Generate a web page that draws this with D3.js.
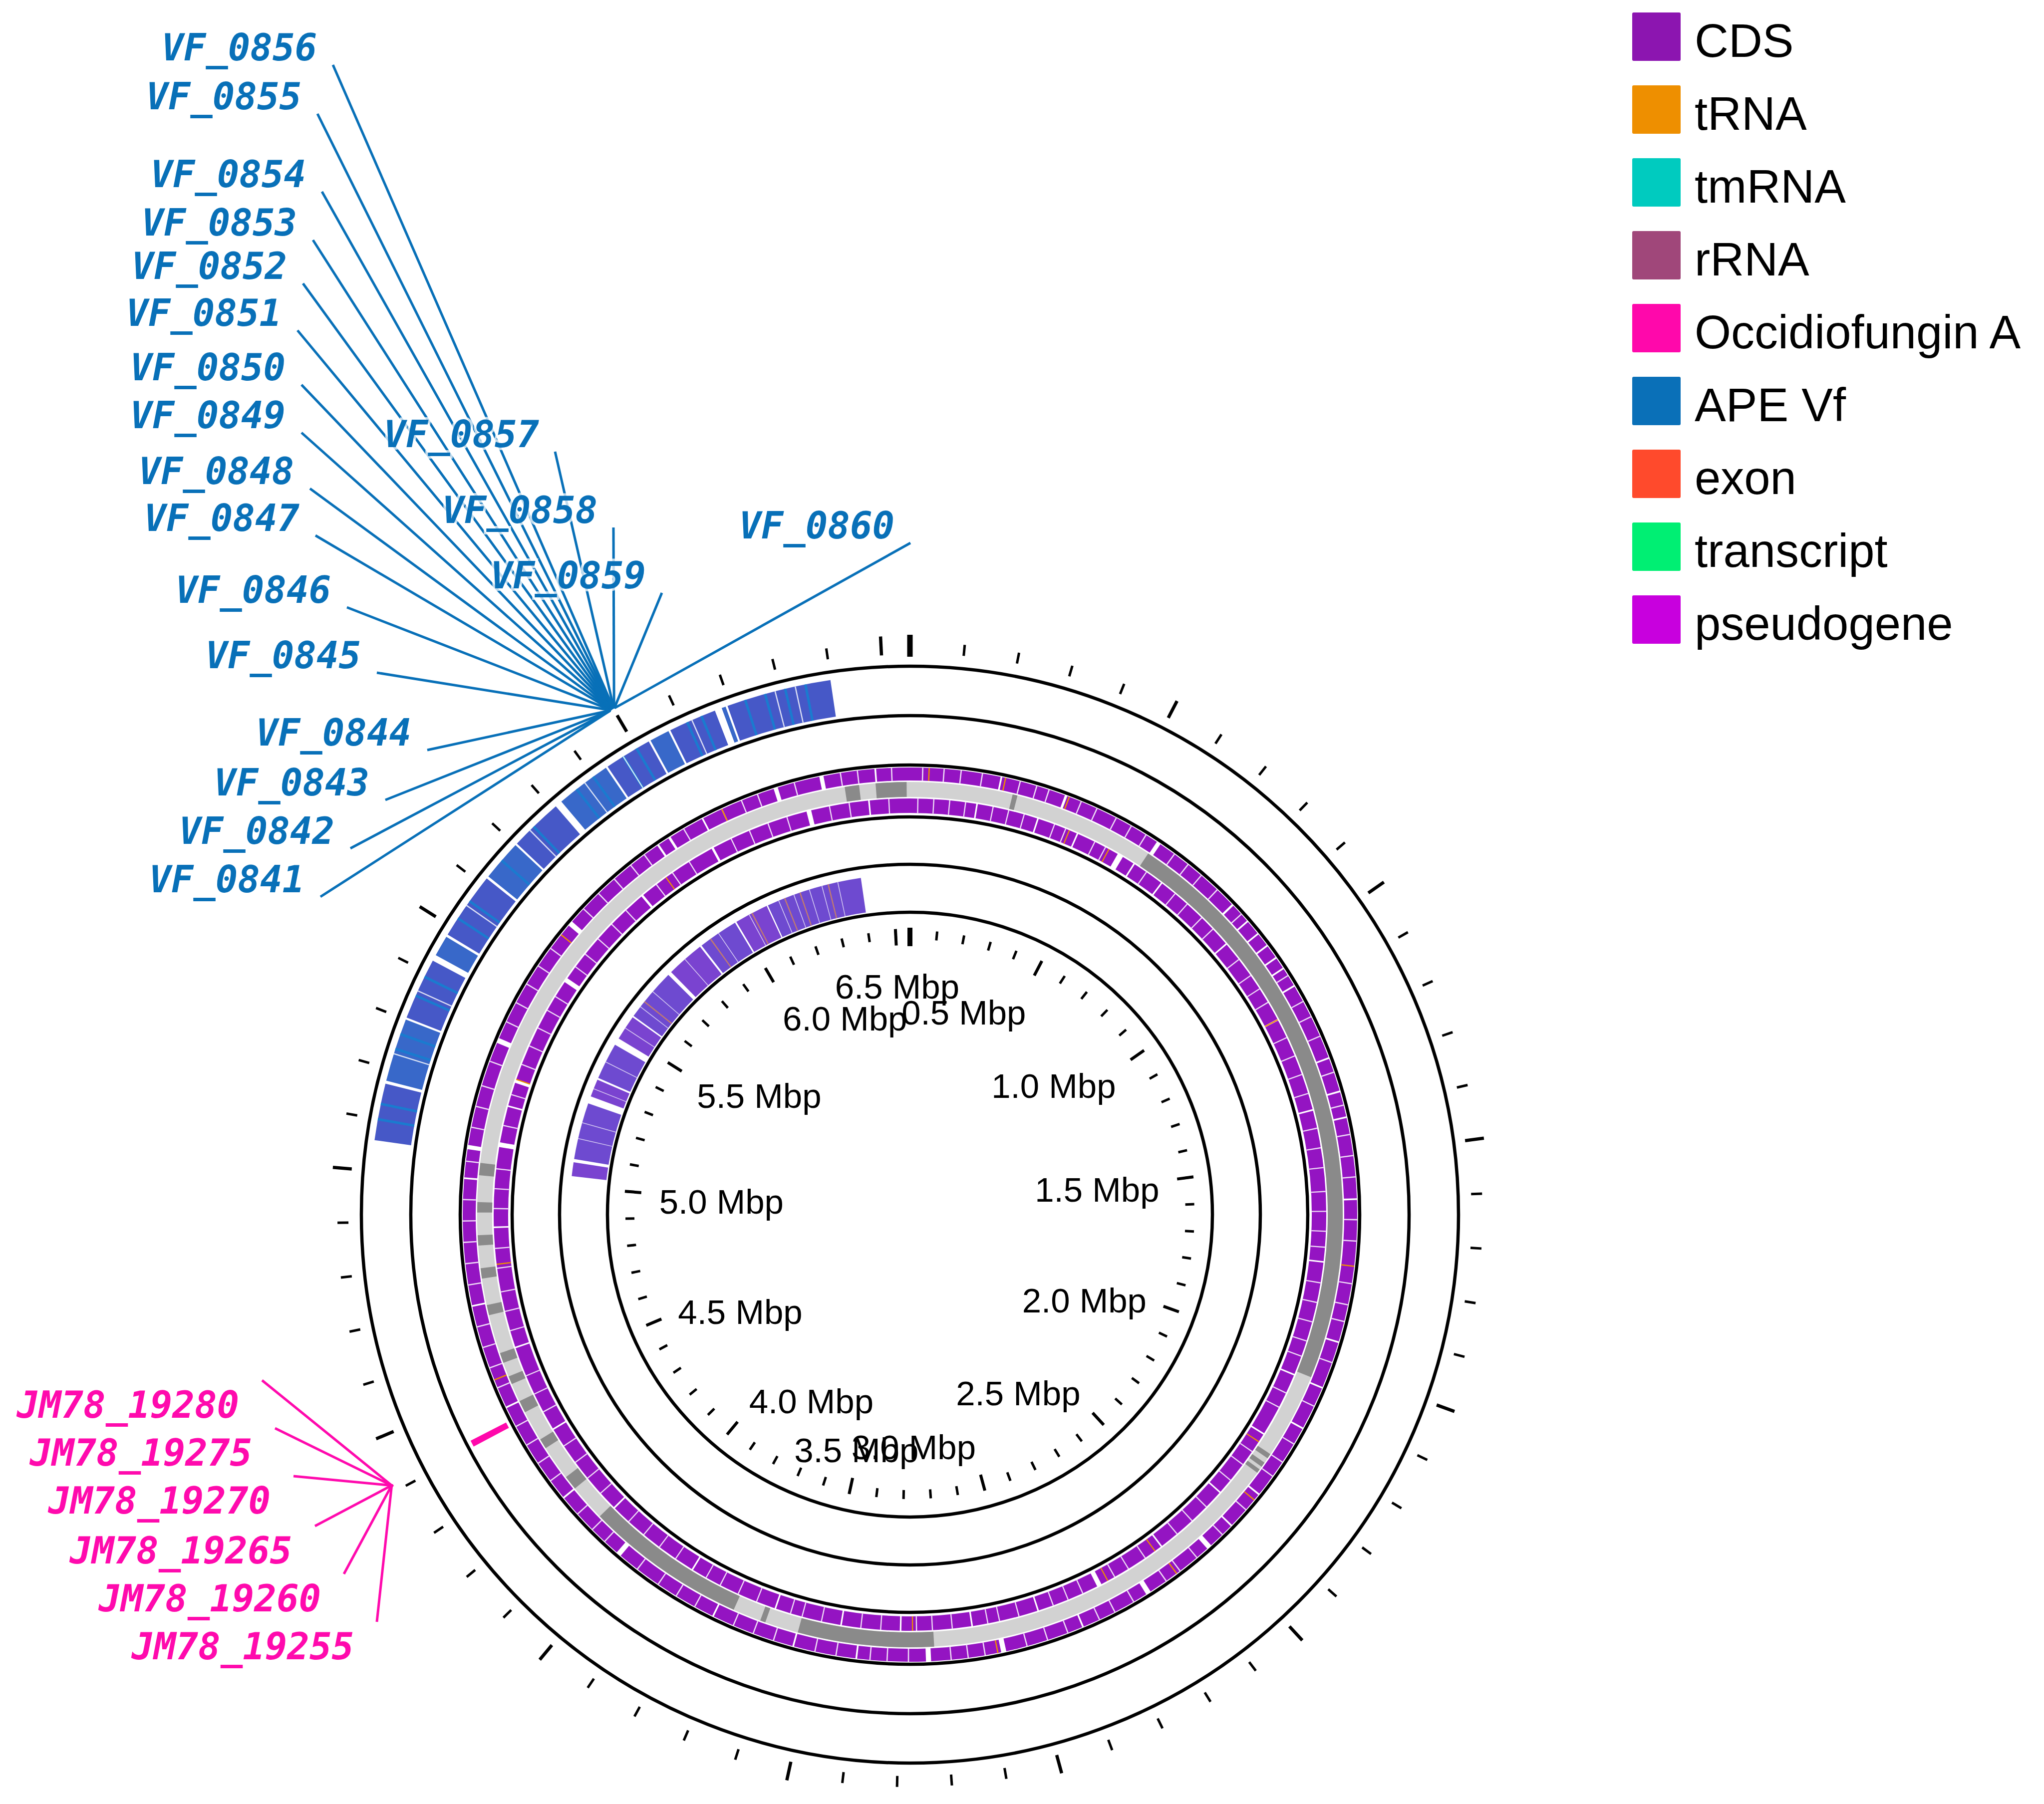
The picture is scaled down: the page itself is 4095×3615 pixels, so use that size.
<!DOCTYPE html>
<html>
<head>
<meta charset="utf-8">
<script src="https://cdn.jsdelivr.net/npm/d3@7"></script>
<style>
  body { margin: 0; background: #fff; }
  text { font-family: "Liberation Sans", Arial, sans-serif; }
  .callout { font-family: "DejaVu Sans Mono", monospace; font-weight: bold; font-style: italic; }
</style>
</head>
<body>
<svg id="map" width="4095" height="3615"></svg>
<script>
// genome size in Mbp
const genomeLength = 6.553;

// tick marks / labels (Mbp)
const majorTicks = [0, 0.5, 1.0, 1.5, 2.0, 2.5, 3.0, 3.5, 4.0, 4.5, 5.0, 5.5, 6.0, 6.5];
const tickLabels = ["", "0.5 Mbp", "1.0 Mbp", "1.5 Mbp", "2.0 Mbp", "2.5 Mbp", "3.0 Mbp",
  "3.5 Mbp", "4.0 Mbp", "4.5 Mbp", "5.0 Mbp", "5.5 Mbp", "6.0 Mbp", "6.5 Mbp"];

// legend
const legendNames = ["CDS", "tRNA", "tmRNA", "rRNA", "Occidiofungin A", "APE Vf", "exon", "transcript", "pseudogene"];
const legendColors = ["#8c15b0", "#ee8f00", "#00cbbf", "#a0477a", "#ff08ab", "#0a70b8", "#ff4a2c", "#00ef73", "#c800de"];

// APE Vf hit track (outer blue band), Mbp
const apeVfBlocks = [[5.059, 5.170], [5.176, 5.300], [5.304, 5.425], [5.437, 5.478], [5.483, 5.615],
  [5.620, 5.700], [5.704, 5.808], [5.822, 5.930], [5.934, 6.027], [6.031, 6.070], [6.074, 6.168],
  [6.182, 6.190], [6.194, 6.399]];
const apeVfStreaks = [5.10, 5.13, 5.24, 5.27, 5.35, 5.39, 5.52, 5.56, 5.66, 5.75, 5.86, 5.90,
  5.97, 6.00, 6.11, 6.14, 6.23, 6.27, 6.31, 6.35];
const apeVfSeps = [5.23, 5.36, 5.55, 5.74, 5.88, 5.97, 6.12, 6.29, 6.33];

// inner violet arc (island CDS), Mbp
const islandBlocks = [[5.033, 5.076], [5.086, 5.262], [5.285, 5.340], [5.346, 5.460], [5.482, 5.560],
  [5.565, 5.730], [5.742, 5.860], [5.866, 5.990], [5.995, 6.100], [6.104, 6.402]];
const islandStreaks = [5.62, 5.90, 6.05, 6.16, 6.21, 6.30];
const islandSeps = [5.15, 5.20, 5.31, 5.40, 5.52, 5.60, 5.66, 5.80, 5.93, 6.04, 6.14, 6.19, 6.24, 6.28, 6.33];

// CDS lanes: white gaps between genes, Mbp
const fwdGaps = [[0.213, 0.217], [0.369, 0.375], [0.610, 0.620], [0.838, 0.843], [0.890, 0.894],
  [0.928, 0.932], [0.963, 0.967], [0.998, 1.002], [1.028, 1.032], [1.076, 1.080], [1.263, 1.267],
  [1.345, 1.349], [1.407, 1.411], [1.600, 1.604], [1.938, 1.942], [2.051, 2.055], [2.156, 2.160],
  [2.341, 2.345], [2.438, 2.442], [2.506, 2.518], [2.684, 2.696], [2.860, 2.864], [3.050, 3.062],
  [3.227, 3.239], [3.400, 3.404], [3.550, 3.554], [3.750, 3.754], [4.010, 4.022], [4.198, 4.202],
  [4.448, 4.452], [4.698, 4.702], [4.998, 5.002], [5.068, 5.078], [5.326, 5.338], [5.648, 5.660],
  [5.927, 5.932], [5.958, 5.964], [6.048, 6.052], [6.230, 6.240], [6.340, 6.350], [6.470, 6.474]];
const revGaps = [[0.167, 0.171], [0.324, 0.328], [0.430, 0.434], [0.545, 0.560], [0.591, 0.595],
  [0.675, 0.679], [0.898, 0.902], [1.128, 1.132], [1.371, 1.375], [1.755, 1.759], [2.048, 2.052],
  [2.215, 2.219], [2.398, 2.402], [2.598, 2.602], [2.778, 2.790], [2.948, 2.952], [3.118, 3.122],
  [3.298, 3.302], [3.448, 3.452], [3.618, 3.622], [3.848, 3.852], [4.098, 4.102], [4.348, 4.352],
  [4.574, 4.578], [4.881, 4.885], [5.085, 5.097], [5.188, 5.192], [5.251, 5.259], [5.533, 5.545],
  [5.822, 5.828], [6.035, 6.041], [6.291, 6.303], [6.448, 6.452]];
// thin gene boundaries inside the lanes
const fwdSeps = [0.03, 0.08, 0.12, 0.17, 0.26, 0.30, 0.33, 0.41, 0.45, 0.50, 0.54, 0.58, 0.66, 0.70,
  0.74, 0.79, 0.87, 1.05, 1.12, 1.16, 1.21, 1.30, 1.38, 1.45, 1.50, 1.55, 1.65, 1.70, 1.80, 1.85,
  1.89, 1.99, 2.10, 2.20, 2.25, 2.29, 2.39, 2.47, 2.55, 2.60, 2.64, 2.73, 2.78, 2.82, 2.90, 2.95,
  3.00, 3.10, 3.14, 3.18, 3.28, 3.33, 3.37, 3.45, 3.50, 3.60, 3.65, 3.70, 3.80, 3.85, 3.90, 3.96,
  4.06, 4.10, 4.15, 4.25, 4.30, 4.35, 4.40, 4.50, 4.55, 4.60, 4.65, 4.75, 4.80, 4.85, 4.90, 4.95,
  5.04, 5.12, 5.17, 5.22, 5.28, 5.38, 5.43, 5.48, 5.53, 5.58, 5.70, 5.75, 5.80, 5.85, 5.89, 6.00,
  6.10, 6.15, 6.19, 6.28, 6.39, 6.43, 6.51];
const revSeps = [0.02, 0.06, 0.10, 0.14, 0.21, 0.25, 0.29, 0.37, 0.40, 0.48, 0.51, 0.63, 0.72, 0.76,
  0.81, 0.85, 0.95, 1.00, 1.04, 1.08, 1.18, 1.23, 1.28, 1.33, 1.42, 1.47, 1.52, 1.58, 1.63, 1.68,
  1.72, 1.81, 1.86, 1.91, 1.96, 2.00, 2.10, 2.14, 2.27, 2.31, 2.36, 2.45, 2.50, 2.55, 2.65, 2.70,
  2.74, 2.83, 2.87, 2.91, 3.00, 3.05, 3.08, 3.17, 3.22, 3.26, 3.35, 3.40, 3.50, 3.55, 3.58, 3.67,
  3.72, 3.77, 3.81, 3.90, 3.95, 4.00, 4.05, 4.15, 4.20, 4.25, 4.30, 4.40, 4.45, 4.50, 4.62, 4.67,
  4.72, 4.78, 4.83, 4.93, 4.98, 5.03, 5.14, 5.22, 5.30, 5.35, 5.40, 5.45, 5.49, 5.58, 5.62, 5.67,
  5.72, 5.77, 5.87, 5.92, 5.97, 6.09, 6.14, 6.19, 6.24, 6.35, 6.40, 6.50];
const fwdTrna = [0.045, 0.225, 0.38, 1.759, 2.36, 2.61, 3.07, 4.52, 5.62, 6.10];
const revTrna = [0.41, 0.52, 1.13, 2.24, 2.62, 2.76, 3.27, 4.79, 5.26, 5.90];

// backbone: dark grey segments on light grey ring, Mbp
const backboneDark = [[6.395, 6.430], [6.470, 6.545], [0.250, 0.262], [0.608, 2.040], [2.250, 2.262],
  [2.275, 2.287], [2.295, 2.305], [3.218, 3.550], [3.632, 3.645], [3.714, 4.110], [4.200, 4.235],
  [4.320, 4.345], [4.420, 4.450], [4.495, 4.515], [4.550, 4.575], [4.670, 4.695], [4.760, 4.785],
  [4.840, 4.865], [4.920, 4.945], [5.010, 5.040]];

// Occidiofungin A cluster, Mbp
const occBlocks = [[4.405, 4.419]];

// labelled genes
const vfNames = ["VF_0841", "VF_0842", "VF_0843", "VF_0844", "VF_0845", "VF_0846", "VF_0847", "VF_0848",
  "VF_0849", "VF_0850", "VF_0851", "VF_0852", "VF_0853", "VF_0854", "VF_0855", "VF_0856",
  "VF_0857", "VF_0858", "VF_0859", "VF_0860"];
const vfPos = [5.9930, 5.9935, 5.9940, 5.9945, 5.9950, 5.9955, 5.9960, 5.9965, 5.9970, 5.9975,
  5.9980, 5.9985, 5.9990, 5.9995, 6.0000, 6.0005, 6.0010, 6.0015, 6.0020, 6.0025];
const jmNames = ["JM78_19280", "JM78_19275", "JM78_19270", "JM78_19265", "JM78_19260", "JM78_19255"];
const jmPos = [4.4095, 4.4105, 4.4115, 4.4125, 4.4135, 4.4145];

// callout text placement (right end x, baseline y) - layout only
const vfLabelAt = [[610, 1788], [670, 1691], [740, 1594], [824, 1494], [723, 1339], [663, 1208],
  [600, 1064], [589, 970], [572, 858], [572, 762], [564, 653], [575, 559], [595, 472], [613, 375],
  [604, 219], [635, 121], [1080, 896], [1197, 1048], [1294, 1179], [1792, 1079]];
const jmLabelAt = [[479, 2841], [505, 2937], [542, 3033], [585, 3133], [643, 3229], [709, 3325]];

const svg = d3.select("#map");
svg.append("rect").attr("width", 4095).attr("height", 3615).attr("fill", "#fff");

const cx = 1823, cy = 2434;
const ang = d3.scaleLinear().domain([0, genomeLength]).range([0, 2 * Math.PI]);
const px = (v, r) => cx + r * Math.sin(ang(v));
const py = (v, r) => cy - r * Math.cos(ang(v));
const arc = d3.arc();

const g = svg.append("g").attr("transform", `translate(${cx},${cy})`);

function band(data, r0, r1, fill, cls) {
  g.append("g").selectAll("path." + cls)
    .data(data)
    .enter().append("path")
    .attr("class", cls)
    .attr("d", d => arc({ innerRadius: r0, outerRadius: r1, startAngle: ang(d[0]), endAngle: ang(d[1]) }))
    .attr("fill", fill);
}

function gapsToBlocks(gaps) {
  const s = gaps.slice().sort((a, b) => a[0] - b[0]);
  return s.map((gp, i) => [gp[1], i + 1 < s.length ? s[i + 1][0] : s[0][0] + genomeLength]);
}

function lines(pos, r0, r1, color, w, cls, op) {
  g.append("g").selectAll("path." + cls)
    .data(pos)
    .enter().append("path")
    .attr("class", cls)
    .attr("d", d => arc({ innerRadius: r0, outerRadius: r1, startAngle: ang(d - w / 2), endAngle: ang(d + w / 2) }))
    .attr("fill", color)
    .attr("fill-opacity", op || 1);
}

// APE Vf band
band(apeVfBlocks, 1009, 1083, (d, i) => i % 2 ? "#3868c9" : "#4658c7", "ape");
lines(apeVfStreaks, 1009, 1083, "#1a7bcf", 0.005, "apeS");
lines(apeVfSeps, 1009, 1083, "#fff", 0.0025, "apeW", 0.8);

// Occidiofungin
band(occBlocks, 910, 990, "#ff08ab", "occ");

// CDS ring
band([[0, genomeLength]], 837, 867, "#d2d2d2", "bbL");
band(backboneDark, 837, 867, "#8a8a8a", "bbD");
band(gapsToBlocks(fwdGaps), 870, 896, "#9414c2", "fwd");
band(gapsToBlocks(revGaps), 805, 834, "#9414c2", "rev");
lines(fwdSeps, 870, 896, "#fff", 0.003, "fS", 0.85);
lines(revSeps, 805, 834, "#fff", 0.003, "rS", 0.85);
lines(fwdTrna, 870, 896, "#ee8f00", 0.003, "fT");
lines(revTrna, 805, 834, "#ee8f00", 0.003, "rT");

// island arc
band(islandBlocks, 612, 682, (d, i) => i % 2 ? "#6e4ad0" : "#7a43d0", "isl");
lines(islandStreaks, 612, 682, "#c07a70", 0.004, "islS");
lines(islandSeps, 612, 682, "#fff", 0.0025, "islW", 0.7);

// circles
[606, 702, 797, 901, 1000, 1099].forEach(r => {
  g.append("circle").attr("r", r).attr("fill", "none").attr("stroke", "#000").attr("stroke-width", 6.5);
});

// ticks
const minor = ang.ticks(66);
const tg = svg.append("g");
function tickSet(vals, r0, r1, w) {
  tg.append("g").selectAll("line")
    .data(vals)
    .enter().append("line")
    .attr("x1", d => px(d, r0)).attr("y1", d => py(d, r0))
    .attr("x2", d => px(d, r1)).attr("y2", d => py(d, r1))
    .attr("stroke", "#000").attr("stroke-width", w);
}
tickSet(minor, 1125, 1147, 5);
tickSet(majorTicks.slice(1), 1122, 1160, 6.5);
tickSet(majorTicks.slice(0, 1), 1118, 1162, 11);
tickSet(minor, 552, 570, 5);
tickSet(majorTicks.slice(1), 540, 573, 6);
tickSet(majorTicks.slice(0, 1), 538, 575, 10);

// inner tick labels
svg.append("g").selectAll("text")
  .data(majorTicks.slice(1))
  .enter().append("text")
  .attr("x", d => px(d, 504))
  .attr("y", d => cy + 13 - 470 * Math.cos(ang(d)))
  .attr("dominant-baseline", "central")
  .attr("text-anchor", d => {
    const s = Math.sin(ang(d));
    return Math.abs(s) < 0.24 ? "middle" : (s > 0 ? "end" : "start");
  })
  .attr("font-size", 69)
  .attr("fill", "#000")
  .text((d, i) => tickLabels[i + 1]);

// callouts
function callouts(names, pos, at, color, dx, dy, rEnd) {
  const cg = svg.append("g");
  cg.selectAll("line")
    .data(names)
    .enter().append("line")
    .attr("x1", (d, i) => at[i][0] + dx).attr("y1", (d, i) => at[i][1] + dy)
    .attr("x2", (d, i) => px(pos[i], rEnd)).attr("y2", (d, i) => py(pos[i], rEnd))
    .attr("stroke", color).attr("stroke-width", 5);
  cg.selectAll("text")
    .data(names)
    .enter().append("text")
    .attr("class", "callout")
    .attr("x", (d, i) => at[i][0]).attr("y", (d, i) => at[i][1])
    .attr("text-anchor", "end")
    .attr("font-size", 74)
    .attr("fill", color)
    .attr("stroke", "#fff").attr("stroke-opacity", 0.75).attr("stroke-width", 10)
    .attr("paint-order", "stroke")
    .text(d => d);
}
callouts(vfNames, vfPos, vfLabelAt, "#0870b8", 32, 9, 1175);
callouts(jmNames, jmPos, jmLabelAt, "#ff0aad", 46, -75, 1170);

// legend
const lg = svg.append("g");
lg.selectAll("rect")
  .data(legendNames)
  .enter().append("rect")
  .attr("x", 3270).attr("y", (d, i) => 25 + 146 * i)
  .attr("width", 97).attr("height", 97).attr("rx", 3)
  .attr("fill", (d, i) => legendColors[i]);
lg.selectAll("text")
  .data(legendNames)
  .enter().append("text")
  .attr("x", 3395).attr("y", (d, i) => 114 + 146 * i)
  .attr("font-size", 94)
  .attr("fill", "#000")
  .text(d => d);
</script>
</body>
</html>
